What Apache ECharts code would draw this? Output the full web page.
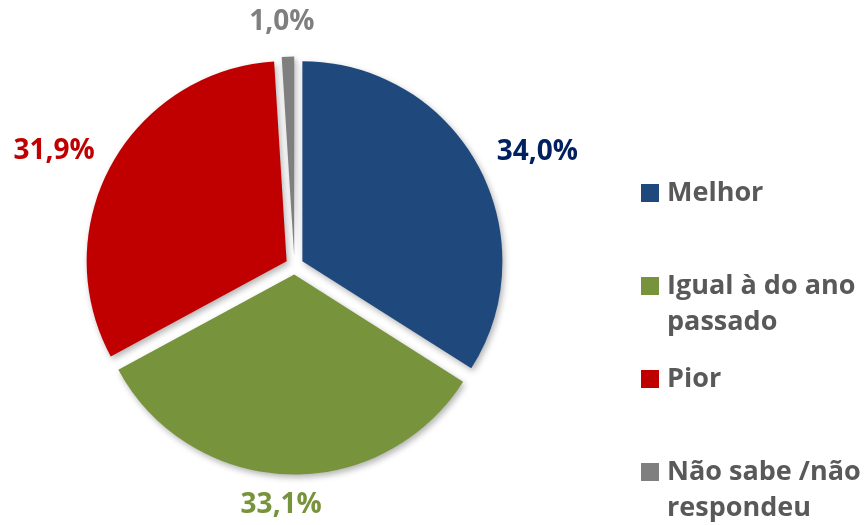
<!DOCTYPE html>
<html>
<head>
<meta charset="utf-8">
<script src="https://cdn.jsdelivr.net/npm/echarts@6/dist/echarts.min.js"></script>
<style>html,body{margin:0;padding:0;background:#fff;}#c{width:865px;height:525px;}</style>
</head>
<body>
<div id="c"></div>
<script>
var categories = ['Melhor', 'Igual à do ano passado', 'Pior', 'Não sabe /não respondeu'];
var legendLabels = ['Melhor', '\nIgual à do ano\npassado', 'Pior', '\nNão sabe /não\nrespondeu'];
var values = [34.0, 33.1, 31.9, 1.0];
var labelTexts = ['34,0%', '33,1%', '31,9%', '1,0%'];
var sliceColors = ['#1F497D', '#77933C', '#C00000', '#7F7F7F'];
var labelColors = ['#002060', '#77933C', '#C00000', '#7F7F7F'];
var lineLen = [27, 30.5, 28, 34.5];
var lineLen2 = [31, 0, 28, 0];

var chart = echarts.init(document.getElementById('c'), null, {renderer: 'canvas'});
var data = categories.map(function (c, i) {
  return {
    name: c,
    value: values[i],
    selected: true,
    itemStyle: {color: sliceColors[i]},
    label: {color: labelColors[i], formatter: labelTexts[i]},
    labelLine: {show: false, length: lineLen[i], length2: lineLen2[i]}
  };
});
chart.setOption({
  animation: false,
  backgroundColor: '#ffffff',
  legend: {
    orient: 'vertical',
    left: 641,
    top: 175,
    height: 420,
    padding: 0,
    itemGap: 21,
    itemWidth: 18,
    itemHeight: 18,
    icon: 'rect',
    selectedMode: false,
    data: categories,
    formatter: function (name) { return legendLabels[categories.indexOf(name)]; },
    textStyle: {
      fontFamily: 'Open Sans',
      fontWeight: 'bold',
      fontSize: 27,
      lineHeight: 36,
      color: '#595959',
      padding: [0, 0, 0, 3]
    }
  },
  series: [{
    type: 'pie',
    center: [294.5, 265.5],
    radius: 200,
    startAngle: 90,
    clockwise: true,
    selectedMode: 'multiple',
    selectedOffset: 9,
    avoidLabelOverlap: false,
    itemStyle: {
      shadowBlur: 6,
      shadowOffsetX: 2,
      shadowOffsetY: 3,
      shadowColor: 'rgba(0,0,0,0.3)'
    },
    label: {
      show: true,
      position: 'outside',
      fontFamily: 'Open Sans',
      fontWeight: 'bold',
      fontSize: 28
    },
    labelLayout: function () { return {align: 'center', verticalAlign: 'middle'}; },
    emphasis: {disabled: true},
    select: {itemStyle: {}},
    data: data
  }]
});
</script>
</body>
</html>
